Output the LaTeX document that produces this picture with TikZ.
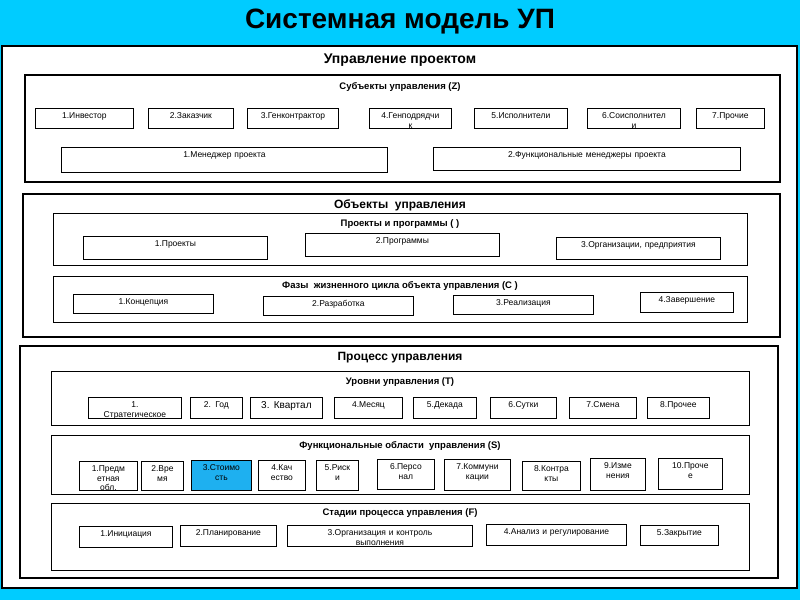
\documentclass[tikz,border=0pt]{standalone}
\usepackage{fontspec}
\setmainfont{Liberation Sans}
\definecolor{bgc}{HTML}{00CCFF}
\definecolor{hl}{HTML}{1EB0F0}
\newcommand\bx[7][]{%
  \pgfmathsetmacro\bxw{#5-#3}\pgfmathsetmacro\bxh{#6-#4}\pgfmathsetmacro\bxt{#5-#3-2}%
  \node[item,#1,minimum width=\bxw pt,minimum height=\bxh pt] (#2) at (#3,#4) {};
  \node[itxt,text width=\bxt pt] (#2t) at ($(#2.north)+(0,3.5)$) {#7};}
\begin{document}
\begin{tikzpicture}[x=1pt,y=-1pt,
  item/.style={draw,line width=0.8pt,anchor=north west,inner sep=0pt},
  itxt/.style={anchor=north,align=center,inner sep=1pt,font=\fontsize{8.5}{9.5}\selectfont},
  big/.style={draw,line width=2.5pt},
  sub/.style={draw,line width=0.9pt},
  ttl/.style={font=\bfseries\fontsize{9.5}{11}\selectfont}]
\usetikzlibrary{calc}
\useasboundingbox (0,0) rectangle (800,600);
\fill[bgc] (0,0) rectangle (800,600);
\node[font=\bfseries\fontsize{28}{31}\selectfont] (title) at (400,22) {Системная модель УП};
\draw[fill=white,line width=2.5pt] (2,46) rectangle (797,588);
\node[font=\bfseries\fontsize{14}{16}\selectfont] (upr) at (400,60) {Управление проектом};
% Z
\draw[big] (25,75) rectangle (780,182);
\node[ttl] (zt) at (400,87) {Субъекты управления (Z)};
\bx{z1}{35}{108}{133}{128}{1.Инвестор}
\bx{z2}{148}{108}{233}{128}{2.Заказчик}
\bx{z3}{247}{108}{338}{128}{3.Генконтрактор}
\bx{z4}{369}{108}{451}{128}{4.Генподрядчи\\к}
\bx{z5}{474}{108}{567}{128}{5.Исполнители}
\bx{z6}{587}{108}{680}{128}{6.Соисполнител\\и}
\bx{z7}{696}{108}{764}{128}{7.Прочие}
\bx{m1}{61}{147}{387}{172}{1.Менеджер проекта}
\bx{m2}{433}{147}{740}{170}{2.Функциональные менеджеры проекта}
% Objects
\draw[big] (23,194) rectangle (780,337);
\node[font=\bfseries\fontsize{12}{14}\selectfont] (ot) at (400,205) {Объекты\ \ управления};
\draw[sub] (53,213) rectangle (747,265);
\node[ttl] (pt) at (400,224) {Проекты и программы ( )};
\bx{p1}{83}{236}{267}{259}{1.Проекты}
\bx{p2}{305}{233}{499}{256}{2.Программы}
\bx{p3}{556}{237}{720}{259}{3.Организации, предприятия}
\draw[sub] (53,276) rectangle (747,322);
\node[ttl] (ft) at (400,286) {Фазы\ \ жизненного цикла объекта управления (С )};
\bx{f1}{73}{294}{213}{313}{1.Концепция}
\bx{f2}{263}{296}{413}{315}{2.Разработка}
\bx{f3}{453}{295}{593}{314}{3.Реализация}
\bx{f4}{640}{292}{733}{312}{4.Завершение}
% Process
\draw[big] (20,346) rectangle (778,578);
\node[font=\bfseries\fontsize{12}{14}\selectfont] (prt) at (400,358) {Процесс управления};
\draw[sub] (51,371) rectangle (749,425);
\node[ttl] (tt) at (400,382) {Уровни управления (Т)};
\bx{t1}{88}{397}{181}{418}{1.\\Стратегическое}
\bx{t2}{190}{397}{242}{418}{2. Год}
\bx{t3}{250}{397}{322}{418}{\fontsize{10}{11}\selectfont 3. Квартал}
\bx{t4}{334}{397}{402}{418}{4.Месяц}
\bx{t5}{413}{397}{476}{418}{5.Декада}
\bx{t6}{490}{397}{556}{418}{6.Сутки}
\bx{t7}{569}{397}{636}{418}{7.Смена}
\bx{t8}{647}{397}{709}{418}{8.Прочее}
\draw[sub] (51,435) rectangle (749,494);
\node[ttl] (st) at (400,446) {Функциональные области\ \ управления (S)};
\bx{s1}{79}{461}{137}{490}{1.Предм\\етная\\обл.}
\bx{s2}{141}{461}{183}{490}{2.Вре\\мя}
\bx[fill=hl]{s3}{191}{460}{251}{490}{3.Стоимо\\сть}
\bx{s4}{258}{460}{305}{490}{4.Кач\\ество}
\bx{s5}{316}{460}{358}{490}{5.Риск\\и}
\bx{s6}{377}{459}{434}{489}{6.Персо\\нал}
\bx{s7}{444}{459}{510}{490}{7.Коммуни\\кации}
\bx{s8}{522}{461}{580}{490}{8.Контра\\кты}
\bx{s9}{590}{458}{645}{490}{9.Изме\\нения}
\bx{s10}{658}{458}{722}{489}{10.Проче\\е}
\draw[sub] (51,503) rectangle (749,570);
\node[ttl] (gt) at (400,513) {Стадии процесса управления (F)};
\bx{g1}{79}{526}{172}{547}{1.Инициация}
\bx{g2}{180}{525}{276}{546}{2.Планирование}
\bx{g3}{287}{525}{472}{546}{3.Организация и контроль\\выполнения}
\bx{g4}{486}{524}{626}{545}{4.Анализ и регулирование}
\bx{g5}{640}{525}{718}{545}{5.Закрытие}
\end{tikzpicture}
\end{document}
